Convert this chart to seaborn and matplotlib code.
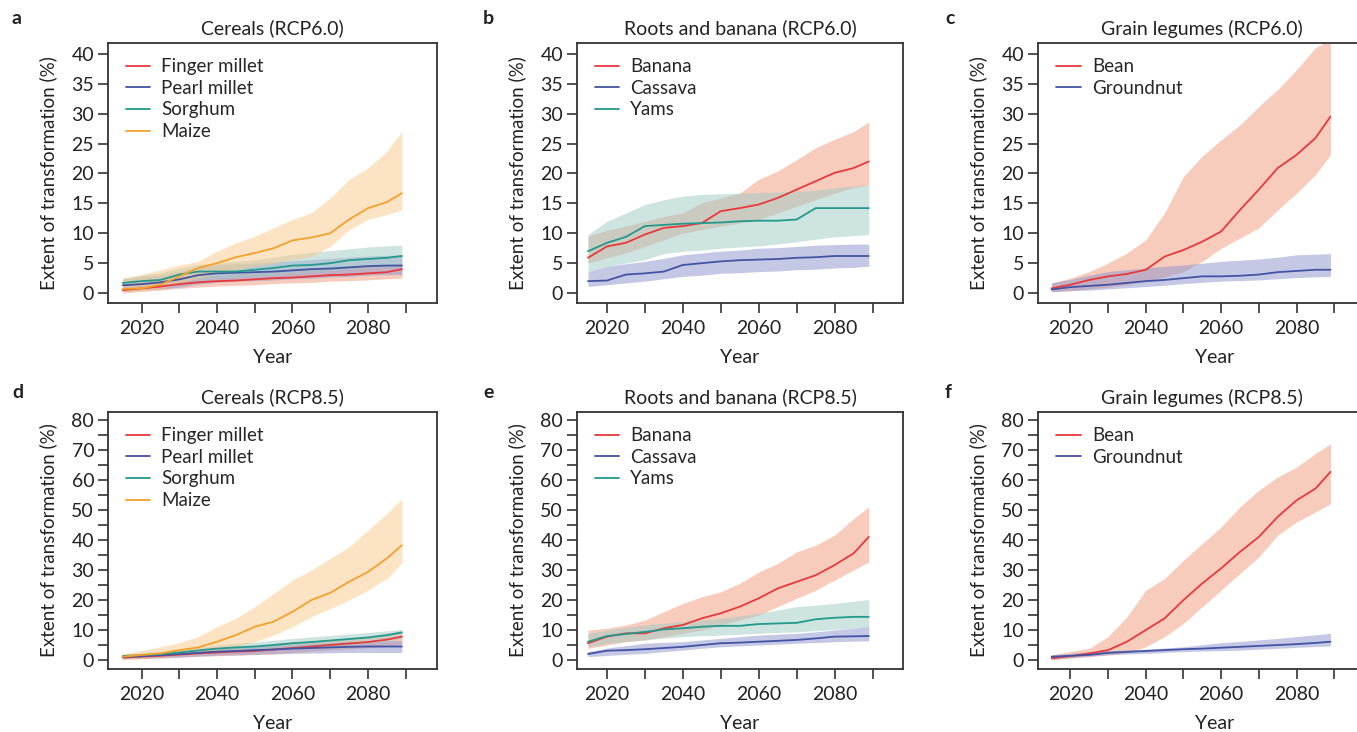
import numpy as np
import pandas as pd
import seaborn as sns
import matplotlib.pyplot as plt
from matplotlib.ticker import MultipleLocator

sns.set_theme(style="ticks")
plt.rcParams["font.family"] = ["Lato", "DejaVu Sans"]

YEARS = [2015, 2020, 2025, 2030, 2035, 2040, 2045, 2050, 2055, 2060, 2065, 2070, 2075, 2080, 2085, 2089]

# a - Cereals (RCP6.0)
a_finger = [0.5, 0.8, 1.1, 1.5, 1.8, 2.0, 2.1, 2.3, 2.5, 2.6, 2.8, 3.0, 3.1, 3.3, 3.5, 4.0]
a_finger_lo = [0.0, 0.3, 0.5, 0.8, 1.0, 1.2, 1.3, 1.4, 1.6, 1.7, 1.8, 2.0, 2.1, 2.2, 2.4, 2.5]
a_finger_hi = [1.5, 1.8, 2.1, 2.5, 2.8, 3.0, 3.2, 3.4, 3.6, 3.8, 4.0, 4.2, 4.4, 4.6, 4.8, 5.0]
a_pearl = [1.3, 1.5, 1.8, 2.3, 3.0, 3.3, 3.4, 3.5, 3.6, 3.8, 4.0, 4.1, 4.3, 4.5, 4.6, 4.6]
a_pearl_lo = [0.3, 0.5, 0.7, 1.0, 1.5, 1.8, 2.0, 2.1, 2.2, 2.4, 2.5, 2.7, 2.8, 3.0, 3.1, 3.1]
a_pearl_hi = [2.3, 2.7, 3.0, 3.6, 4.3, 4.7, 4.9, 5.0, 5.2, 5.4, 5.6, 5.8, 6.0, 6.2, 6.3, 6.4]
a_sorghum = [1.7, 2.0, 2.2, 3.1, 3.6, 3.6, 3.6, 3.9, 4.2, 4.6, 4.7, 5.0, 5.5, 5.7, 5.9, 6.2]
a_sorghum_lo = [1.0, 1.2, 1.5, 2.0, 2.3, 2.5, 2.6, 2.8, 3.0, 3.3, 3.5, 3.7, 4.0, 4.2, 4.3, 4.5]
a_sorghum_hi = [2.5, 3.0, 3.4, 4.2, 4.8, 5.0, 5.3, 5.6, 6.0, 6.5, 6.8, 7.1, 7.4, 7.7, 7.9, 8.0]
a_maize = [0.7, 0.8, 1.4, 2.8, 4.2, 5.0, 6.0, 6.7, 7.5, 8.8, 9.3, 10.0, 12.3, 14.2, 15.2, 16.7]
a_maize_lo = [0.3, 0.3, 0.7, 1.7, 2.5, 3.3, 3.9, 4.5, 5.0, 5.6, 6.1, 7.8, 10.6, 12.3, 13.1, 13.9]
a_maize_hi = [2.5, 3.1, 3.9, 4.7, 5.3, 7.0, 8.4, 9.5, 10.9, 12.3, 13.4, 15.9, 19.0, 20.9, 23.7, 27.0]

# b - Roots and banana (RCP6.0)
b_banana = [5.9, 7.8, 8.4, 9.8, 10.9, 11.2, 11.7, 13.7, 14.2, 14.8, 15.9, 17.3, 18.7, 20.1, 20.9, 22.0]
b_banana_lo = [5.0, 5.9, 6.7, 7.8, 8.9, 10.0, 10.6, 11.2, 11.7, 12.3, 13.4, 14.5, 15.6, 16.7, 17.6, 18.1]
b_banana_hi = [9.5, 10.5, 11.2, 12.0, 12.8, 13.4, 15.1, 15.9, 16.7, 19.0, 20.4, 22.3, 24.3, 25.7, 27.0, 28.6]
b_cassava = [2.0, 2.1, 3.1, 3.3, 3.6, 4.7, 5.0, 5.3, 5.5, 5.6, 5.7, 5.9, 6.0, 6.2, 6.2, 6.2]
b_cassava_lo = [1.1, 1.4, 1.7, 2.0, 2.4, 2.8, 3.0, 3.3, 3.4, 3.6, 3.7, 3.9, 4.0, 4.2, 4.3, 4.5]
b_cassava_hi = [3.6, 4.5, 4.9, 5.3, 5.8, 6.4, 6.7, 7.0, 7.2, 7.5, 7.6, 7.8, 8.0, 8.1, 8.2, 8.2]
b_yams = [7.0, 8.4, 9.4, 11.2, 11.4, 11.6, 11.7, 11.8, 12.0, 12.1, 12.1, 12.3, 14.2, 14.2, 14.2, 14.2]
b_yams_lo = [3.6, 4.5, 5.0, 5.6, 6.6, 7.0, 7.2, 7.5, 7.7, 7.9, 8.2, 8.6, 9.0, 9.4, 9.6, 9.8]
b_yams_hi = [9.8, 12.0, 13.4, 14.8, 15.6, 16.2, 16.5, 16.6, 16.7, 16.8, 16.9, 17.0, 17.2, 17.6, 17.9, 18.1]

# c - Grain legumes (RCP6.0)
c_bean = [0.8, 1.4, 2.2, 2.8, 3.2, 3.9, 6.1, 7.2, 8.6, 10.3, 13.9, 17.3, 20.9, 23.1, 25.9, 29.5]
c_bean_lo = [0.3, 0.4, 0.7, 1.0, 1.4, 2.0, 2.7, 3.6, 5.3, 7.5, 9.2, 10.9, 13.9, 16.7, 19.8, 23.1]
c_bean_hi = [1.7, 2.5, 3.6, 5.0, 6.7, 8.9, 13.4, 19.5, 22.9, 25.6, 28.1, 31.2, 34.0, 37.3, 41.0, 42.4]
c_groundnut = [0.6, 1.0, 1.2, 1.4, 1.7, 2.0, 2.2, 2.5, 2.8, 2.8, 2.9, 3.1, 3.5, 3.7, 3.9, 3.9]
c_groundnut_lo = [0.2, 0.4, 0.5, 0.7, 0.9, 1.1, 1.3, 1.6, 1.8, 2.0, 2.1, 2.2, 2.4, 2.6, 2.7, 2.8]
c_groundnut_hi = [1.7, 2.3, 3.0, 3.6, 3.9, 4.2, 4.5, 4.7, 5.0, 5.3, 5.5, 5.7, 6.0, 6.4, 6.5, 6.6]

# d - Cereals (RCP8.5)
d_finger = [0.8, 1.1, 1.4, 1.8, 2.2, 2.5, 2.8, 3.0, 3.5, 4.0, 4.5, 5.0, 5.5, 6.0, 6.8, 7.8]
d_finger_lo = [0.2, 0.4, 0.6, 0.9, 1.2, 1.4, 1.6, 1.8, 2.1, 2.5, 2.9, 3.3, 3.7, 4.1, 4.6, 5.3]
d_finger_hi = [1.6, 2.0, 2.4, 2.8, 3.3, 3.7, 4.1, 4.4, 5.0, 5.6, 6.2, 6.8, 7.4, 8.0, 8.8, 9.8]
d_pearl = [1.0, 1.3, 1.6, 2.0, 2.4, 2.8, 3.0, 3.3, 3.5, 3.8, 4.0, 4.2, 4.4, 4.5, 4.5, 4.5]
d_pearl_lo = [0.4, 0.6, 0.8, 1.0, 1.3, 1.6, 1.7, 1.9, 2.0, 2.2, 2.3, 2.4, 2.5, 2.5, 2.5, 2.5]
d_pearl_hi = [1.6, 2.0, 2.4, 2.9, 3.4, 3.9, 4.3, 4.6, 4.9, 5.3, 5.6, 5.9, 6.1, 6.3, 6.4, 6.5]
d_sorghum = [1.3, 1.6, 2.0, 2.5, 3.2, 3.8, 4.2, 4.5, 5.0, 5.6, 6.0, 6.5, 7.0, 7.5, 8.3, 9.2]
d_sorghum_lo = [0.7, 1.0, 1.3, 1.7, 2.2, 2.6, 2.9, 3.1, 3.5, 4.0, 4.3, 4.7, 5.1, 5.5, 6.2, 7.0]
d_sorghum_hi = [2.0, 2.4, 2.8, 3.4, 4.3, 5.0, 5.6, 6.0, 6.6, 7.2, 7.7, 8.2, 8.7, 9.2, 9.7, 10.2]
d_maize = [1.1, 1.7, 2.2, 3.3, 4.2, 6.1, 8.3, 11.1, 12.8, 16.1, 20.0, 22.4, 26.1, 29.4, 33.9, 38.3]
d_maize_lo = [0.2, 0.6, 1.1, 1.7, 2.2, 3.3, 4.4, 6.1, 8.3, 11.1, 14.4, 17.2, 20.0, 23.3, 27.2, 32.4]
d_maize_hi = [2.2, 3.1, 4.4, 5.8, 7.8, 11.1, 13.9, 17.8, 22.2, 26.7, 30.0, 33.9, 37.8, 43.3, 48.9, 53.9]

# e - Roots and banana (RCP8.5)
e_banana = [5.6, 7.8, 8.9, 8.9, 10.6, 11.7, 13.9, 15.6, 17.8, 20.6, 23.9, 26.1, 28.3, 31.7, 35.6, 41.1]
e_banana_lo = [3.9, 5.0, 6.1, 6.7, 7.8, 8.9, 10.0, 11.7, 13.3, 15.0, 17.8, 20.6, 23.3, 26.7, 30.0, 32.8]
e_banana_hi = [10.0, 10.6, 11.7, 13.3, 16.1, 18.9, 21.1, 22.8, 25.6, 29.4, 32.2, 36.1, 38.3, 41.7, 47.2, 51.1]
e_cassava = [2.0, 3.1, 3.3, 3.6, 4.0, 4.4, 5.0, 5.6, 5.8, 6.1, 6.4, 6.7, 7.2, 7.8, 7.9, 8.0]
e_cassava_lo = [1.1, 1.5, 1.9, 2.2, 2.8, 3.3, 3.9, 4.4, 4.7, 5.0, 5.3, 5.6, 5.8, 6.1, 6.3, 6.4]
e_cassava_hi = [2.8, 4.0, 4.8, 5.6, 5.9, 6.1, 6.7, 7.2, 7.8, 8.3, 8.6, 8.9, 9.4, 10.0, 10.6, 11.1]
e_yams = [6.1, 8.0, 8.7, 9.4, 10.2, 10.6, 11.1, 11.4, 11.4, 12.0, 12.2, 12.4, 13.6, 14.1, 14.4, 14.4]
e_yams_lo = [4.4, 5.6, 6.2, 6.7, 7.3, 7.8, 8.1, 8.3, 8.6, 8.9, 9.2, 9.4, 9.8, 10.2, 10.6, 10.9]
e_yams_hi = [8.9, 10.0, 10.9, 11.7, 12.3, 12.8, 13.4, 13.9, 14.7, 15.6, 16.7, 17.8, 18.3, 18.9, 19.6, 20.2]

# f - Grain legumes (RCP8.5)
f_bean = [0.6, 1.3, 2.2, 3.3, 6.1, 10.0, 13.9, 20.0, 25.6, 30.6, 36.1, 41.1, 47.8, 53.3, 57.2, 62.8]
f_bean_lo = [0.0, 0.6, 1.1, 1.7, 2.4, 4.4, 7.8, 12.2, 17.8, 23.3, 28.9, 34.4, 41.7, 46.1, 49.4, 52.2]
f_bean_hi = [1.7, 2.8, 3.9, 7.8, 14.4, 23.3, 27.2, 33.3, 38.9, 44.4, 51.1, 56.7, 61.1, 64.4, 68.9, 72.2]
f_groundnut = [1.1, 1.4, 1.7, 2.4, 2.7, 3.0, 3.3, 3.6, 3.8, 4.1, 4.4, 4.7, 5.0, 5.3, 5.7, 6.1]
f_groundnut_lo = [0.2, 0.8, 1.3, 1.7, 2.0, 2.2, 2.5, 2.8, 3.0, 3.1, 3.3, 3.6, 3.9, 4.2, 4.5, 4.7]
f_groundnut_hi = [1.7, 2.2, 2.7, 3.1, 3.4, 3.6, 4.0, 4.4, 5.1, 5.8, 6.2, 6.7, 7.2, 7.8, 8.4, 8.9]

LINE = {"red": "#e8393a", "blue": "#4353a3", "teal": "#22998c", "orange": "#f4a12a"}
BAND = {"red": "#f29a7a", "blue": "#8c92cc", "teal": "#9fcac4", "orange": "#fbc98a"}

panels = [
    ("a", "Cereals (RCP6.0)", [
        ("Finger millet", "red", a_finger, a_finger_lo, a_finger_hi),
        ("Pearl millet", "blue", a_pearl, a_pearl_lo, a_pearl_hi),
        ("Sorghum", "teal", a_sorghum, a_sorghum_lo, a_sorghum_hi),
        ("Maize", "orange", a_maize, a_maize_lo, a_maize_hi)]),
    ("b", "Roots and banana (RCP6.0)", [
        ("Banana", "red", b_banana, b_banana_lo, b_banana_hi),
        ("Cassava", "blue", b_cassava, b_cassava_lo, b_cassava_hi),
        ("Yams", "teal", b_yams, b_yams_lo, b_yams_hi)]),
    ("c", "Grain legumes (RCP6.0)", [
        ("Bean", "red", c_bean, c_bean_lo, c_bean_hi),
        ("Groundnut", "blue", c_groundnut, c_groundnut_lo, c_groundnut_hi)]),
    ("d", "Cereals (RCP8.5)", [
        ("Finger millet", "red", d_finger, d_finger_lo, d_finger_hi),
        ("Pearl millet", "blue", d_pearl, d_pearl_lo, d_pearl_hi),
        ("Sorghum", "teal", d_sorghum, d_sorghum_lo, d_sorghum_hi),
        ("Maize", "orange", d_maize, d_maize_lo, d_maize_hi)]),
    ("e", "Roots and banana (RCP8.5)", [
        ("Banana", "red", e_banana, e_banana_lo, e_banana_hi),
        ("Cassava", "blue", e_cassava, e_cassava_lo, e_cassava_hi),
        ("Yams", "teal", e_yams, e_yams_lo, e_yams_hi)]),
    ("f", "Grain legumes (RCP8.5)", [
        ("Bean", "red", f_bean, f_bean_lo, f_bean_hi),
        ("Groundnut", "blue", f_groundnut, f_groundnut_lo, f_groundnut_hi)]),
]

fig = plt.figure(figsize=(13.57, 7.32), dpi=100)

# third column runs past the right edge of the figure (cropped in the original)
lefts = [0.0796, 0.4252, 0.7649]
widths = [0.2424, 0.2402, 0.2600]
xlims = [(2011.1, 2098.3), (2012.1, 2098.0), (2011.4, 2105.0)]
title_x = [0.5, 0.5, 0.465]
bottoms = [0.5861, 0.0861]
heights = [0.3552, 0.3511]
letter_x = [12, 483, 945]
letter_y = [18, 392]

for i, (letter, title, series) in enumerate(panels):
    row, col = divmod(i, 3)
    ax = fig.add_axes([lefts[col], bottoms[row], widths[col], heights[row]])

    for name, c, mean, lo, hi in series:
        ax.fill_between(YEARS, lo, hi, color=BAND[c], alpha=0.5, lw=0)
    for name, c, mean, lo, hi in series:
        df = pd.DataFrame({"Year": YEARS, "val": mean})
        sns.lineplot(data=df, x="Year", y="val", ax=ax, color=LINE[c], lw=1.3, label=name)

    ax.set_xlim(*xlims[col])
    if row == 0:
        ax.set_ylim(-1.65, 41.8)
        ax.yaxis.set_major_locator(MultipleLocator(5))
    else:
        ax.set_ylim(-3.0, 82.8)
        ax.yaxis.set_major_locator(MultipleLocator(10))
        ax.yaxis.set_minor_locator(MultipleLocator(5))
    ax.set_xticks(range(2020, 2091, 10))
    ax.set_xticklabels(["2020", "", "2040", "", "2060", "", "2080", ""])

    ax.tick_params(axis="both", which="both", direction="out", length=7, width=1.2,
                   colors="#333333", labelsize=14, labelcolor="#222222", pad=3)
    ax.tick_params(axis="x", pad=5)
    for sp in ax.spines.values():
        sp.set_linewidth(1.3)
        sp.set_color("#333333")
    if col == 2:
        ax.spines["right"].set_visible(False)

    ax.set_xlabel("Year", fontsize=14, color="#222222", labelpad=9)
    ax.set_ylabel("Extent of transformation (%)", fontsize=13.5, color="#222222", labelpad=10)
    ax.set_title(title, fontsize=14, color="#222222", pad=6, x=title_x[col])

    ax.legend(loc="upper left", bbox_to_anchor=(0.02, 0.985), frameon=False,
              fontsize=13.5, handlelength=1.3, handletextpad=0.6, labelspacing=0.25,
              borderaxespad=0.2)

    fig.text(letter_x[col] / 1357, 1 - letter_y[row] / 732, letter, fontsize=14,
             fontweight="bold", va="center", ha="left", color="#222222")

fig.savefig("out.png", dpi=100)
